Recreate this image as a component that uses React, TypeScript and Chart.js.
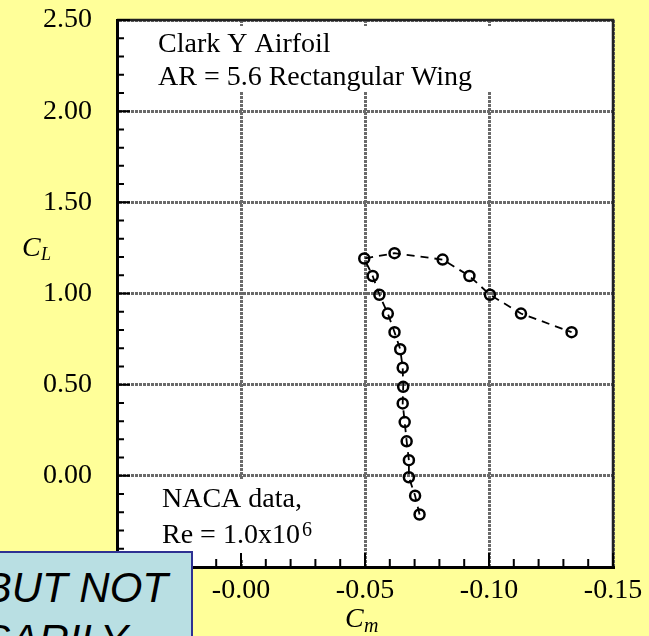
import React, { useEffect, useRef } from 'react';
import { Chart, registerables } from 'chart.js';
Chart.register(...registerables);

// Pitching moment coefficient (x) and lift coefficient (y), in angle-of-attack order
const cmValues = [-0.0720, -0.0702, -0.0677, -0.0677, -0.0668, -0.0660, -0.0652, -0.0654, -0.0652, -0.0642, -0.0619, -0.0592, -0.0558, -0.0531, -0.0497, -0.0619, -0.0813, -0.0921, -0.1004, -0.1129, -0.1333];
const clValues = [-0.212, -0.109, -0.008, 0.086, 0.189, 0.295, 0.397, 0.488, 0.593, 0.694, 0.788, 0.890, 0.993, 1.096, 1.192, 1.221, 1.186, 1.096, 0.993, 0.890, 0.788];

const xTickValues = [0.05, 0, -0.05, -0.1, -0.15];
const xTickLabels = ['0.05', '-0.00', '-0.05', '-0.10', '-0.15'];
const yTickValues = [-0.5, 0, 0.5, 1, 1.5, 2, 2.5];
const yTickLabels = ['-0.50', '0.00', '0.50', '1.00', '1.50', '2.00', '2.50'];
const titleLines = ['Clark Y Airfoil', 'AR = 5.6 Rectangular Wing'];
const noteLines = ['NACA data,', 'Re = 1.0x10', '6'];
const overlayLines = ['BUT NOT', 'NECESSARILY'];

const SERIF = '"Liberation Serif", "Times New Roman", serif';

function labelFor(v: number, values: number[], labels: string[]) {
  for (let i = 0; i < values.length; i++) {
    if (Math.abs(values[i] - v) < 1e-6) return labels[i];
  }
  return Number(v).toFixed(2);
}

const decor = {
  id: 'decor',
  beforeDraw(chart: any) {
    const { ctx, chartArea: a } = chart;
    ctx.save();
    ctx.fillStyle = '#ffffff';
    ctx.fillRect(a.left, a.top, a.right - a.left, a.bottom - a.top);
    ctx.restore();
  },
  beforeDatasetsDraw(chart: any) {
    const { ctx } = chart;
    ctx.save();
    ctx.fillStyle = '#ffffff';
    ctx.fillRect(150, 26, 347, 66);
    ctx.fillRect(150, 479, 176, 80);
    ctx.fillStyle = '#000';
    ctx.font = '28px ' + SERIF;
    ctx.textBaseline = 'alphabetic';
    ctx.textAlign = 'left';
    ctx.fillText(titleLines[0], 158, 52);
    ctx.fillText(titleLines[1], 158, 85);
    ctx.fillText(noteLines[0], 162, 507);
    ctx.fillText(noteLines[1], 162, 543);
    const w = ctx.measureText(noteLines[1]).width;
    ctx.font = '20px ' + SERIF;
    ctx.fillText(noteLines[2], 162 + w + 2, 536);
    ctx.restore();
  },
  afterDraw(chart: any) {
    const { ctx, chartArea: a, scales } = chart;
    const xs = scales.x;
    const ys = scales.y;
    ctx.save();
    // top / right frame
    ctx.strokeStyle = '#222';
    ctx.lineWidth = 2.5;
    ctx.beginPath();
    ctx.moveTo(a.left, a.top);
    ctx.lineTo(a.right, a.top);
    ctx.lineTo(a.right, a.bottom);
    ctx.stroke();
    // inward ticks
    ctx.strokeStyle = '#000';
    ctx.lineWidth = 2;
    ctx.beginPath();
    for (let i = -5; i <= 25; i++) {
      const y = ys.getPixelForValue(i / 10);
      const len = i % 5 === 0 ? 13 : 7;
      ctx.moveTo(a.left, y);
      ctx.lineTo(a.left + len, y);
    }
    for (let i = -15; i <= 5; i++) {
      const x = xs.getPixelForValue(i / 100);
      const len = i % 5 === 0 ? 14 : 8;
      ctx.moveTo(x, a.bottom);
      ctx.lineTo(x, a.bottom - len);
    }
    ctx.stroke();
    // axis titles
    ctx.fillStyle = '#000';
    ctx.textBaseline = 'alphabetic';
    ctx.textAlign = 'left';
    ctx.font = 'italic 28px ' + SERIF;
    ctx.fillText('C', 22, 256);
    ctx.font = 'italic 18px ' + SERIF;
    ctx.fillText('L', 41, 260);
    ctx.font = 'italic 28px ' + SERIF;
    ctx.fillText('C', 345, 627);
    ctx.font = 'italic 20px ' + SERIF;
    ctx.fillText('m', 364, 632);
    ctx.restore();
  },
};

export default function App() {
  const ref = useRef<HTMLCanvasElement | null>(null);
  useEffect(() => {
    if (!ref.current) return;
    const chart = new Chart(ref.current, {
      type: 'scatter',
      data: {
        datasets: [
          {
            data: cmValues.map((x, i) => ({ x, y: clValues[i] })),
            showLine: true,
            borderColor: '#000',
            borderWidth: 1.8,
            borderDash: [8, 6],
            pointRadius: 5,
            pointBorderWidth: 2.5,
            pointBorderColor: '#000',
            pointBackgroundColor: 'rgba(0,0,0,0)',
            pointStyle: 'circle',
          },
        ],
      },
      options: {
        responsive: false,
        animation: false,
        devicePixelRatio: 1,
        layout: { padding: { top: 20, right: 36, left: 0, bottom: 0 } },
        plugins: { legend: { display: false }, tooltip: { enabled: false } },
        scales: {
          x: {
            type: 'linear',
            min: -0.15,
            max: 0.05,
            reverse: true,
            afterFit: (s: any) => { s.height = 69; s.paddingLeft = 0; s.paddingRight = 0; },
            grid: { color: '#6a6a6a', lineWidth: 3, drawTicks: false },
            border: { display: true, color: '#000', width: 3, dash: [3, 1] },
            ticks: {
              stepSize: 0.05,
              padding: 7,
              color: '#000',
              font: { family: SERIF, size: 28 },
              maxRotation: 0,
              autoSkip: false,
              callback: (v: any) => labelFor(Number(v), xTickValues, xTickLabels),
            },
          },
          y: {
            type: 'linear',
            min: -0.5,
            max: 2.5,
            afterFit: (s: any) => { s.width = 117; s.paddingTop = 0; s.paddingBottom = 0; },
            grid: { color: '#6a6a6a', lineWidth: 3, drawTicks: false },
            border: { display: true, color: '#000', width: 3, dash: [3, 1] },
            ticks: {
              stepSize: 0.5,
              padding: 25,
              color: '#000',
              font: { family: SERIF, size: 28 },
              autoSkip: false,
              callback: (v: any) => labelFor(Number(v), yTickValues, yTickLabels),
            },
          },
        },
      },
      plugins: [decor],
    } as any);
    return () => chart.destroy();
  }, []);

  return (
    <div style={{ position: 'absolute', left: 0, top: 0, width: 649, height: 636, background: '#FFFF99', overflow: 'hidden' }}>
      <canvas ref={ref} width={649} height={636} style={{ width: 649, height: 636, display: 'block' }} />
      <div style={{ position: 'absolute', left: -4, top: 551, width: 197, height: 120, background: '#B9DFE3', border: '2px solid #2E3192', boxSizing: 'border-box' }} />
      <div style={{ position: 'absolute', right: 649 - 168, top: 567, whiteSpace: 'nowrap', font: 'italic 42px "Liberation Sans", Arial, sans-serif', lineHeight: '42px', color: '#000' }}>{overlayLines[0]}</div>
      <div style={{ position: 'absolute', right: 649 - 128, top: 619, whiteSpace: 'nowrap', font: 'italic 42px "Liberation Sans", Arial, sans-serif', lineHeight: '42px', color: '#000' }}>{overlayLines[1]}</div>
    </div>
  );
}
